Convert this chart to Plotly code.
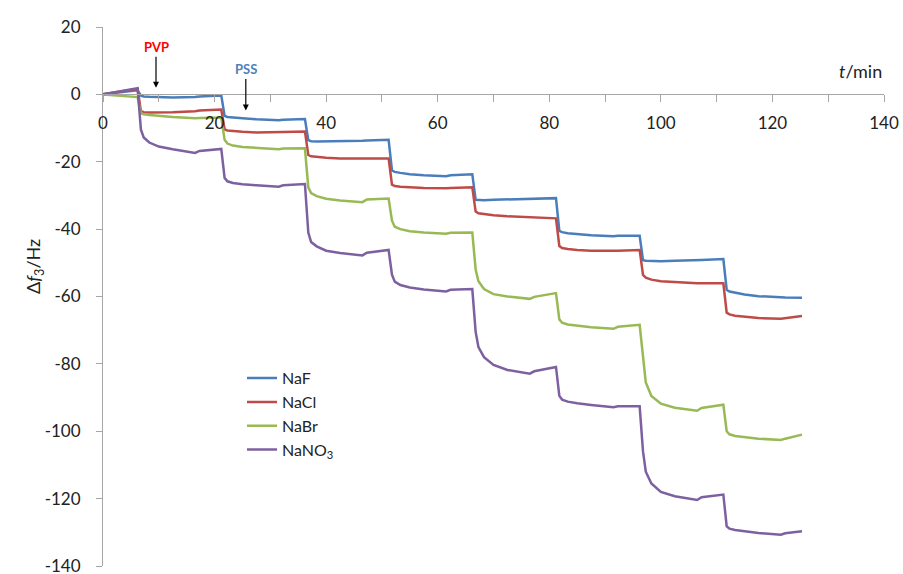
import plotly.graph_objects as go

# time points (min), shared by all four series
t = [
    0, 3, 6.2,
    6.8, 7.3, 8.3, 10, 12.5, 16.5, 17.3, 21.2,
    21.8, 22.3, 23.3, 25, 27.5, 31.5, 32.3, 36.2,
    36.8, 37.3, 38.3, 40, 42.5, 46.5, 47.3, 51.2,
    51.8, 52.3, 53.3, 55, 57.5, 61.5, 62.3, 66.2,
    66.8, 67.3, 68.3, 70, 72.5, 76.5, 77.3, 81.2,
    81.8, 82.3, 83.3, 85, 87.5, 91.5, 92.3, 96.2,
    96.8, 97.3, 98.3, 100, 102.5, 106.5, 107.3, 111.2,
    111.8, 112.3, 113.3, 115, 117.5, 121.5, 122.3, 125.3,
]

naf = [
    0, 0.6, 1.2,
    -0.4, -0.6, -0.7, -0.8, -0.9, -0.8, -0.6, -0.3,
    -6.4, -6.7, -6.9, -7.1, -7.4, -7.7, -7.5, -7.3,
    -13.6, -13.9, -14.0, -14.0, -13.9, -13.8, -13.7, -13.5,
    -22.6, -23.0, -23.3, -23.7, -24.0, -24.3, -24.0, -23.7,
    -31.3, -31.4, -31.4, -31.3, -31.2, -31.1, -31.0, -30.8,
    -40.5, -40.9, -41.2, -41.5, -41.8, -42.1, -42.0, -42.0,
    -49.2, -49.4, -49.5, -49.5, -49.4, -49.3, -49.2, -48.9,
    -58.0, -58.5, -58.9, -59.4, -59.9, -60.4, -60.3, -60.4,
]

nacl = [
    0, 0.8, 1.6,
    -5.0, -5.3, -5.4, -5.4, -5.3, -5.0, -4.8, -4.5,
    -10.4, -10.7, -10.9, -11.1, -11.3, -11.4, -11.2, -11.0,
    -18.0, -18.4, -18.6, -18.8, -19.0, -19.1, -19.0, -19.0,
    -26.8, -27.2, -27.4, -27.6, -27.8, -27.9, -27.8, -27.6,
    -34.8, -35.3, -35.6, -35.9, -36.2, -36.5, -36.6, -36.8,
    -45.0, -45.6, -45.9, -46.2, -46.4, -46.5, -46.4, -46.2,
    -53.6, -54.4, -55.0, -55.5, -55.8, -56.1, -56.1, -56.1,
    -64.8, -65.3, -65.7, -66.0, -66.4, -66.6, -66.4, -65.8,
]

nabr = [
    0, -0.4, -0.8,
    -5.6, -5.9, -6.1, -6.4, -6.7, -7.1, -7.0, -6.9,
    -13.5, -14.6, -15.2, -15.6, -15.9, -16.3, -16.1, -16.0,
    -27.6, -29.3, -30.2, -31.0, -31.5, -32.0, -31.2, -30.9,
    -37.5, -39.3, -40.0, -40.6, -41.0, -41.4, -41.1, -41.0,
    -52.0, -55.5, -57.8, -59.3, -60.0, -60.7, -60.1, -59.0,
    -66.8, -67.8, -68.3, -68.7, -69.1, -69.6, -69.0, -68.4,
    -79.0, -85.5, -89.5, -91.8, -93.0, -93.9, -93.1, -92.1,
    -100.0, -100.9, -101.4, -101.8, -102.2, -102.6, -102.2, -101.0,
]

nano3 = [
    0, 0.8, 1.8,
    -10.5, -12.8, -14.3, -15.5, -16.3, -17.4, -16.8, -16.2,
    -24.8, -25.8, -26.3, -26.7, -27.0, -27.4, -27.0, -26.6,
    -41.0, -43.8, -45.1, -46.4, -47.1, -47.8, -47.0, -46.2,
    -53.5, -55.6, -56.6, -57.3, -57.9, -58.5, -58.0, -57.8,
    -70.5, -75.0, -78.0, -80.3, -81.8, -82.9, -82.2, -80.9,
    -89.5, -90.6, -91.2, -91.7, -92.2, -92.9, -92.6, -92.6,
    -106.0, -112.0, -115.5, -118.0, -119.3, -120.4, -119.6, -118.8,
    -128.2, -128.9, -129.3, -129.7, -130.2, -130.7, -130.3, -129.7,
]

series = [
    ("NaF", naf, "#4A7EBB"),
    ("NaCl", nacl, "#BE4B48"),
    ("NaBr", nabr, "#98B954"),
    ("NaNO<sub>3</sub>", nano3, "#7D60A0"),
]

y_ticks = list(range(-140, 21, 20))
y_labels = [str(v) for v in y_ticks]

font = "Lato, 'Open Sans', sans-serif"
axis_col = "#A6A6A6"

fig = go.Figure()
for name, vals, col in series:
    fig.add_trace(go.Scatter(x=t, y=vals, mode="lines", name=name, line=dict(color=col, width=2.5)))

# PVP / PSS markers
fig.add_annotation(x=9.5, y=2.0, ax=9.5, ay=14, axref="x", ayref="y", text="<b>PVP</b>",
                   font=dict(color="#FF0000", size=13), showarrow=True, arrowhead=2,
                   arrowsize=1, arrowwidth=1.2, arrowcolor="black")
fig.add_annotation(x=25.6, y=-4.8, ax=25.6, ay=7.4, axref="x", ayref="y", text="<b>PSS</b>",
                   font=dict(color="#4F81BD", size=13), showarrow=True, arrowhead=2,
                   arrowsize=1, arrowwidth=1.2, arrowcolor="black")

# axis titles
fig.add_annotation(x=140, y=7, xref="x", yref="y", xanchor="right", yanchor="middle",
                   text="<i>t</i>/min", showarrow=False, font=dict(size=18, color="#222"))
fig.add_annotation(x=-0.087, y=0.555, xref="paper", yref="paper", xanchor="center", yanchor="middle",
                   textangle=-90, text="Δ<i>f</i><sub>3</sub>/Hz", showarrow=False,
                   font=dict(size=18, color="#222"))

fig.update_layout(
    width=903,
    height=574,
    margin=dict(l=103, r=19, t=27, b=8, autoexpand=False),
    paper_bgcolor="white",
    plot_bgcolor="white",
    font=dict(family=font, size=17, color="#222"),
    showlegend=True,
    legend=dict(x=0.178, y=0.38, xanchor="left", yanchor="top", font=dict(size=16),
                bgcolor="rgba(0,0,0,0)", itemwidth=30, tracegroupgap=0),
    xaxis=dict(
        range=[0, 140],
        anchor="free",
        position=0.875,
        automargin=False,
        showline=True,
        linecolor=axis_col,
        linewidth=1,
        ticks="outside",
        ticklen=7,
        tickcolor=axis_col,
        dtick=20,
        tick0=0,
        minor=dict(dtick=10, ticks="outside", ticklen=7, tickcolor=axis_col, showgrid=False),
        ticklabelstandoff=6,
        ticklabeloverflow="allow",
        showgrid=False,
        zeroline=False,
    ),
    yaxis=dict(
        range=[-140, 20],
        automargin=False,
        showline=True,
        linecolor=axis_col,
        linewidth=1,
        ticks="outside",
        ticklen=6,
        tickcolor=axis_col,
        tickvals=y_ticks,
        ticktext=y_labels,
        ticklabelstandoff=12,
        ticklabeloverflow="allow",
        showgrid=False,
        zeroline=False,
    ),
)

# page body has a default 8px margin; drop it so the figure fills the window
fig.write_html("out.html", config={"displayModeBar": False},
               post_script="document.body.style.margin='0';")
